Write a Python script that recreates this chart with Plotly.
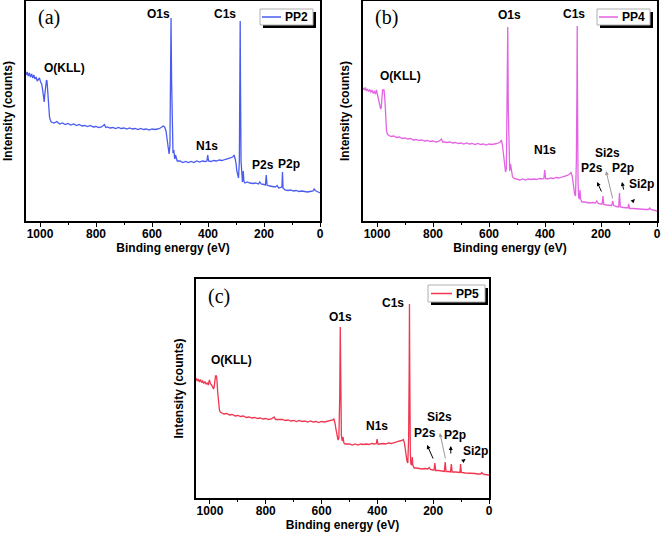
import plotly.graph_objects as go

W, H = 663, 540

# ---------------- data ----------------
energy_a = [1050, 1046, 1042, 1038, 1034, 1030, 1026, 1022, 1018, 1014, 1010, 1006, 1002, 998, 994,
            990, 987, 985, 983, 980, 977, 975, 972, 969, 966, 963,
            960, 950, 940, 930, 920, 910, 900, 890, 880, 870, 860, 850, 840, 830, 820, 810, 800, 790, 780,
            770, 765, 760, 750, 740, 730, 720, 710, 700, 690, 680, 670, 660, 650, 640, 630, 620, 610, 600,
            590, 580, 570, 560, 555, 550, 546, 542, 539, 536, 534, 532, 530, 528, 525, 522, 519, 516, 510,
            500, 490, 480, 470, 460, 450, 440, 430, 420, 410, 404, 401, 398, 390, 380, 370, 360, 350, 340,
            330, 320, 312, 307, 303, 300, 297, 294, 291, 288, 286, 285, 284, 282, 280, 277, 274, 272, 268,
            260, 250, 240, 230, 220, 215, 210, 200, 195, 192, 189, 180, 170, 160, 153, 148, 140, 136, 134,
            132, 125, 115, 105, 95, 85, 75, 65, 55, 45, 35, 25, 21, 17, 10, 5, 0]
counts_a = [146, 149, 145, 148, 144, 147, 143, 146, 142, 144, 140, 141, 143, 139, 137,
            130, 121, 119, 126, 138, 141, 140, 128, 112, 104, 101,
            99, 98, 99.5, 97, 98, 96.5, 97.5, 96, 97, 95.5, 96.5, 95, 95.5, 94.5, 95.5, 94, 94.5, 93.5, 94,
            96.5, 93.5, 94, 93, 93.5, 92.5, 93.5, 92.5, 93, 92, 93, 92, 92.5, 91.5, 92.5, 91.5, 92, 91, 92,
            91.5, 92, 93, 95, 94, 90, 80, 70, 67, 75, 140, 203, 140, 80, 68, 71, 62, 66, 60,
            60, 58.5, 59.5, 58.5, 59.5, 58.5, 60, 59, 60, 59.5, 60, 66, 60, 59.5, 60.5, 60, 61, 60.5, 61.5,
            62, 63, 64, 66, 62, 58, 50, 46, 43, 60, 140, 200, 140, 60, 43, 39, 50, 40, 38,
            39, 38, 37.5, 38, 37, 39, 37, 36.5, 36, 46, 36, 35, 34.5, 34, 35.5, 33, 33.5, 34, 49,
            33, 31, 30.5, 31, 30, 30.5, 29.5, 30, 29.5, 29, 29.5, 30, 32, 30.5, 29.5, 29, 28]

energy_b = [1050, 1046, 1042, 1038, 1034, 1030, 1026, 1022, 1018, 1014, 1010, 1006, 1002, 998, 994,
            990, 987, 985, 982, 980, 977, 975, 972, 969, 966, 963,
            960, 950, 940, 930, 920, 910, 900, 890, 880, 870, 860, 850, 840, 830, 820, 810, 800, 790, 780,
            770, 765, 760, 750, 740, 730, 720, 710, 700, 690, 680, 670, 660, 650, 640, 630, 620, 610, 600,
            590, 580, 570, 560, 556, 552, 548, 544, 541, 538, 535, 533, 531, 529, 526, 523, 520, 516, 510,
            500, 490, 480, 470, 460, 450, 440, 430, 420, 410, 404, 401, 398, 390, 380, 370, 360, 350, 340,
            330, 320, 312, 307, 303, 300, 297, 294, 291, 288, 286, 285, 284, 282, 280, 277, 275, 273, 268,
            260, 250, 240, 230, 220, 215, 210, 200, 196, 193, 190, 180, 170, 162, 158, 155, 145, 137, 134,
            131, 120, 110, 104, 101, 98, 85, 70, 60, 50, 40, 30, 26, 22, 15, 5, 0]
counts_b = [133, 131, 133.5, 130, 132, 129.5, 131.5, 129, 130.5, 128, 129.5, 127, 131, 126, 124,
            117, 112, 113, 122, 131, 131, 131, 122, 100, 90, 87,
            86, 84.5, 85, 83.5, 84, 82.5, 83, 82, 82.5, 81, 81.5, 80.5, 81, 80, 80.5, 79.5, 80, 79, 79.5,
            82, 79, 79, 78.5, 79, 78, 78.5, 77.5, 78, 77, 78, 77, 77.5, 76.5, 77.5, 76.5, 77, 76, 77,
            76.5, 77, 77.5, 79, 81, 76, 65, 54, 49, 52, 110, 194, 110, 60, 50, 57, 48, 44, 42.5,
            42, 41, 42, 41, 42, 41.5, 42, 41.5, 42.5, 42, 42.5, 51, 42.5, 42, 43, 42.5, 43.5, 43, 44,
            44.5, 45.5, 47, 48.5, 45, 38, 30, 27, 25, 60, 130, 195, 130, 40, 24, 22, 31, 22, 19,
            19, 18.5, 18, 18.5, 18, 20, 17.5, 17, 17, 25, 16.5, 16, 16, 15.5, 20, 15.5, 14.5, 14, 28,
            14, 13.5, 13, 13, 17, 12.5, 12.5, 12, 12, 11.5, 11.5, 11.5, 13, 11.5, 11, 10.5, 10]

energy_c = [1050, 1046, 1042, 1038, 1034, 1030, 1026, 1022, 1018, 1014, 1010, 1006, 1002, 998, 994,
            990, 987, 985, 982, 980, 977, 975, 972, 969, 966, 963,
            960, 950, 940, 930, 920, 910, 900, 890, 880, 870, 860, 850, 840, 830, 820, 810, 800, 790, 780,
            770, 765, 760, 750, 740, 730, 720, 710, 700, 690, 680, 670, 660, 650, 640, 630, 620, 610, 600,
            590, 580, 570, 560, 556, 552, 548, 544, 541, 538, 535, 533, 531, 529, 526, 523, 520, 516, 510,
            500, 490, 480, 470, 460, 450, 440, 430, 420, 410, 404, 401, 398, 390, 380, 370, 360, 350, 340,
            330, 320, 312, 307, 303, 300, 297, 294, 291, 288, 286, 285, 284, 282, 280, 277, 275, 273, 268,
            260, 250, 240, 230, 220, 214, 210, 200, 197, 194, 191, 180, 170, 160, 157, 154, 145, 138, 135,
            132, 120, 108, 104, 102, 99, 85, 70, 60, 50, 40, 30, 26, 22, 15, 5, 0]
counts_c = [120, 117, 119, 116, 118.5, 115.5, 117, 114.5, 116.5, 114, 115, 113, 118, 114, 113,
            110, 109, 111, 118, 122, 122, 118, 105, 93, 88, 86,
            85.5, 84, 84.5, 83, 83.5, 82, 82.5, 81.5, 82, 80.5, 81, 80, 80.5, 79.5, 80, 79, 79.5, 78.5, 79,
            81, 78.5, 78.5, 78, 78.5, 77.5, 78, 77, 77.5, 76.5, 77.5, 76.5, 77, 76, 77, 76, 76.5, 75.5, 76.5,
            76, 76.5, 77, 78, 79, 75, 68, 61, 58, 60, 100, 171, 100, 62, 57, 61, 55, 54, 54,
            54, 53, 54, 53, 54, 53.5, 54, 53.5, 54.5, 54, 54.5, 59, 54, 54, 54.5, 54, 55, 54.5, 55.5,
            56, 57, 57.5, 58.5, 55, 47, 40, 37, 35, 60, 130, 194, 130, 45, 34, 33, 41, 33, 30,
            30, 29.5, 29, 29.5, 29, 30.5, 28.5, 28, 28, 35, 27.5, 27.5, 27, 26.5, 36, 26.5, 26.5, 26, 34,
            26, 26, 25.5, 25.5, 34, 25.5, 25, 25, 24.5, 24.5, 24, 24, 25.5, 24, 23.5, 23.5, 23]

x_ticks = [1000, 800, 600, 400, 200, 0]
series_names = ["PP2", "PP4", "PP5"]
panel_labels = ["(a)", "(b)", "(c)"]
colors = ["#4a5cf0", "#e463e4", "#f0364f"]

# ---------------- layout helpers ----------------
def fx(p):
    return p / W

def fy(p):
    return 1 - p / H

# plot boxes in pixels: left, right, top, bottom
boxes = [(26, 320, 1, 221), (363, 657, 1, 221), (196, 489, 279, 498)]
yranges = [[0, 220], [0, 220], [0, 219]]
datas = [(energy_a, counts_a), (energy_b, counts_b), (energy_c, counts_c)]

FONT = "Liberation Sans, Arial, sans-serif"
fig = go.Figure()
annotations = []
shapes = []

for i, (box, (ex, cy)) in enumerate(zip(boxes, datas)):
    sfx = "" if i == 0 else str(i + 1)
    fig.add_trace(go.Scatter(x=ex, y=cy, mode="lines", name=series_names[i],
                             line=dict(color=colors[i], width=1.3),
                             xaxis="x" + sfx, yaxis="y" + sfx, showlegend=False))
    l, r, t, b = box
    fig.layout["xaxis" + sfx] = dict(
        domain=[fx(l), fx(r)], anchor="y" + sfx, range=[1050, 0],
        tickvals=x_ticks, ticks="outside", ticklen=4, tickwidth=1.2, tickcolor="black",
        minor=dict(dtick=100, tick0=0, ticks="outside", ticklen=2, tickcolor="black"),
        ticklabelstandoff=-3,
        showline=True, linecolor="black", linewidth=1.5, mirror=True,
        showgrid=False, zeroline=False,
        tickfont=dict(family=FONT, size=12, color="black", weight="bold"),
        title=dict(text="Binding energy (eV)", standoff=3,
                   font=dict(family=FONT, size=12, color="black", weight="bold")),
        automargin=False,
    )
    fig.layout["yaxis" + sfx] = dict(
        domain=[fy(b), fy(t)], anchor="x" + sfx, range=yranges[i],
        showticklabels=False, ticks="", showline=True, linecolor="black", linewidth=1.5,
        mirror=True, showgrid=False, zeroline=False, automargin=False,
    )
    # y title
    annotations.append(dict(text="Intensity (counts)", textangle=-90, xref="paper", yref="paper",
                            x=fx(l - 18), y=fy((t + b) / 2), showarrow=False,
                            xanchor="center", yanchor="middle",
                            font=dict(family=FONT, size=12, color="black", weight="bold")))
    # panel label
    annotations.append(dict(text=panel_labels[i], xref="paper", yref="paper",
                            x=fx(l + 23), y=fy(t + 17), showarrow=False,
                            xanchor="center", yanchor="middle",
                            font=dict(family="Liberation Serif, Times New Roman, serif", size=20, color="black")))

# legend boxes (manual, with shadow): box left, right, top, bottom; line x0, x1; text x
legend_boxes = [(260, 313, 9, 25, 262, 281, 283), (597, 650, 9, 25, 599, 618, 620), (428, 485, 285, 302, 431, 452, 454)]
for i, (l, r, t, b, lx0, lx1, tx) in enumerate(legend_boxes):
    shapes.append(dict(type="rect", xref="paper", yref="paper", x0=fx(l + 3), x1=fx(r + 3),
                       y0=fy(b + 3), y1=fy(t + 3), fillcolor="black", line=dict(width=0), layer="above"))
    shapes.append(dict(type="rect", xref="paper", yref="paper", x0=fx(l), x1=fx(r),
                       y0=fy(b), y1=fy(t), fillcolor="white", line=dict(color="#b0b0b0", width=1), layer="above"))
    ym = (t + b) / 2
    shapes.append(dict(type="line", xref="paper", yref="paper", x0=fx(lx0), x1=fx(lx1),
                       y0=fy(ym), y1=fy(ym), line=dict(color=colors[i], width=1.5), layer="above"))
    annotations.append(dict(text=series_names[i], xref="paper", yref="paper", x=fx(tx), y=fy(ym),
                            showarrow=False, xanchor="left", yanchor="middle",
                            font=dict(family=FONT, size=12, color="black", weight="bold")))

# peak labels (pixel centres)
peak_labels = [
    ("O(KLL)", 64, 68), ("O1s", 158, 14), ("C1s", 225, 14), ("N1s", 207, 146), ("P2s", 263, 165), ("P2p", 289, 164),
    ("O(KLL)", 400, 76), ("O1s", 509, 15), ("C1s", 574, 14), ("N1s", 545, 150), ("Si2s", 607, 153),
    ("P2s", 592, 168), ("P2p", 623, 168), ("Si2p", 641, 184),
    ("O(KLL)", 231, 360), ("O1s", 341, 317), ("C1s", 393, 303), ("N1s", 377, 426), ("Si2s", 439, 417),
    ("P2s", 425, 433), ("P2p", 455, 435), ("Si2p", 475, 451),
]
for txt, x, y in peak_labels:
    annotations.append(dict(text=txt, xref="paper", yref="paper", x=fx(x), y=fy(y), showarrow=False,
                            xanchor="center", yanchor="middle",
                            font=dict(family=FONT, size=12, color="black", weight="bold")))

# arrows in data coordinates: axis suffix, head (eV, counts), tail (eV, counts), colour
arrows = [
    ("2", 214, 39, 196, 28, "black"), ("2", 182, 50, 157, 21, "#9a9a9a"),
    ("2", 125, 39, 118, 30, "black"), ("2", 79, 22, 93, 18, "black"),
    ("3", 222, 53, 198, 38, "black"), ("3", 176, 65, 155, 38, "#9a9a9a"),
    ("3", 137, 52, 137, 43, "black"), ("3", 84, 39, 98, 36, "black"),
]
for s, hx, hy, tx_, ty_, col in arrows:
    annotations.append(dict(text="", x=hx, y=hy, ax=tx_, ay=ty_, xref="x" + s, yref="y" + s,
                            axref="x" + s, ayref="y" + s, showarrow=True, arrowhead=2,
                            arrowsize=0.8, arrowwidth=1, arrowcolor=col))

fig.update_layout(
    width=W, height=H, margin=dict(l=0, r=0, t=0, b=0),
    paper_bgcolor="white", plot_bgcolor="white",
    annotations=annotations, shapes=shapes, showlegend=False,
)

fig.write_html("out.html", config={"displayModeBar": False},
               post_script="document.body.style.margin='0';document.body.style.overflow='hidden';")
